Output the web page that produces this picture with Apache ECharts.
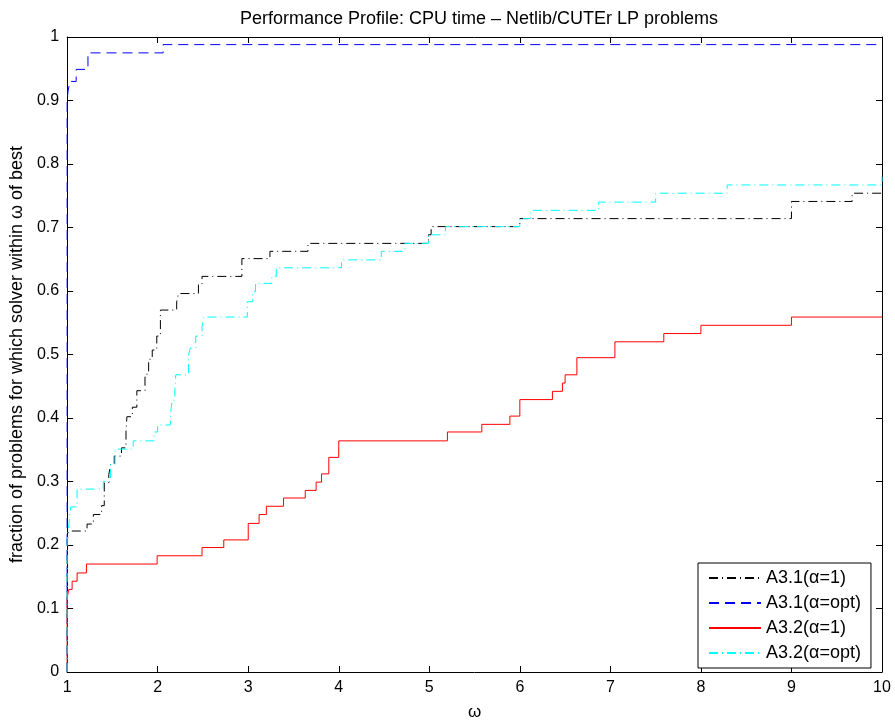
<!DOCTYPE html>
<html>
<head>
<meta charset="utf-8">
<script src="https://cdn.jsdelivr.net/npm/echarts@6/dist/echarts.min.js"></script>
<style>
  html, body { margin: 0; padding: 0; background: #fff; }
  #chart { width: 895px; height: 726px; }
</style>
</head>
<body>
<div id="chart"></div>
<script>
// step points: value y holds from x until the next x
const a31OneX = [1, 1, 1.02, 1.22, 1.29, 1.38, 1.41, 1.46, 1.48, 1.52, 1.60, 1.65, 1.66, 1.72, 1.77, 1.86, 1.90, 1.94, 1.99, 2.03, 2.21, 2.23, 2.45, 2.49, 2.93, 3.24, 3.66, 4.99, 5.02, 6.0, 9.0, 9.67, 10]
const a31OneY = [0, 0.208, 0.222, 0.233, 0.248, 0.262, 0.298, 0.311, 0.327, 0.34, 0.353, 0.378, 0.402, 0.417, 0.443, 0.469, 0.4925, 0.507, 0.529, 0.57, 0.583, 0.596, 0.61, 0.623, 0.651, 0.6625, 0.675, 0.6885, 0.7014, 0.714, 0.741, 0.754, 0.754]

const a31OptX = [1, 1, 1.01, 1.03, 1.10, 1.23, 2.06, 10]
const a31OptY = [0, 0.9, 0.915, 0.93, 0.949, 0.975, 0.988, 0.988]

const a32OneX = [1, 1, 1.018, 1.055, 1.11, 1.213, 1.994, 2.49, 2.73, 3.0, 3.12, 3.20, 3.39, 3.63, 3.75, 3.81, 3.89, 4.0, 5.2, 5.58, 5.89, 6.0, 6.36, 6.47, 6.5, 6.63, 7.05, 7.59, 8.0, 9.0, 10]
const a32OneY = [0, 0.117, 0.13, 0.143, 0.156, 0.17, 0.183, 0.196, 0.208, 0.234, 0.248, 0.261, 0.274, 0.286, 0.299, 0.312, 0.338, 0.364, 0.378, 0.39, 0.403, 0.429, 0.442, 0.455, 0.468, 0.495, 0.52, 0.533, 0.546, 0.559, 0.559]

const a32OptX = [1, 1, 1.02, 1.04, 1.11, 1.40, 1.48, 1.53, 1.73, 1.96, 2.0, 2.14, 2.16, 2.19, 2.20, 2.34, 2.36, 2.42, 2.49, 2.51, 2.99, 3.05, 3.08, 3.26, 3.31, 4.03, 4.47, 4.73, 4.99, 5.18, 6.0, 6.12, 6.87, 7.5, 8.29, 10, 10]
const a32OptY = [0, 0.208, 0.234, 0.26, 0.288, 0.30, 0.327, 0.351, 0.364, 0.378, 0.389, 0.404, 0.428, 0.443, 0.468, 0.498, 0.51, 0.529, 0.544, 0.559, 0.583, 0.599, 0.612, 0.623, 0.6365, 0.649, 0.6625, 0.675, 0.6885, 0.7014, 0.714, 0.727, 0.740, 0.754, 0.767, 0.767, 0.78]

const seriesNames = ['A3.1(\u03b1=1)', 'A3.1(\u03b1=opt)', 'A3.2(\u03b1=1)', 'A3.2(\u03b1=opt)']

function zip(xs, ys) {
  return xs.map((x, i) => [x, ys[i]])
}

const font = 'Liberation Sans, Arial, Helvetica, sans-serif'
const chart = echarts.init(document.getElementById('chart'))

const axisCommon = {
  type: 'value',
  axisLine: { show: true, onZero: false, lineStyle: { color: '#000', width: 1 } },
  axisTick: { show: true, inside: true, length: 6, lineStyle: { color: '#000' } },
  splitLine: { show: false }
}

function stepLine(name, data, color, type) {
  return {
    name: name,
    type: 'line',
    step: 'end',
    data: data,
    showSymbol: false,
    symbol: 'none',
    animation: false,
    lineStyle: { color: color, width: 1, type: type },
    itemStyle: { color: color }
  }
}

chart.setOption({
  backgroundColor: '#fff',
  title: {
    text: 'Performance Profile: CPU time \u2013 Netlib/CUTEr LP problems',
    left: 474,
    textAlign: 'center',
    top: 5,
    textStyle: { fontFamily: font, fontSize: 18, fontWeight: 'normal', color: '#000' }
  },
  grid: { left: 66, right: 13, top: 37, bottom: 46 },
  legend: {
    orient: 'vertical',
    left: 698,
    top: 563,
    itemWidth: 52,
    itemHeight: 14,
    itemGap: 7,
    padding: [6, 10, 6, 10],
    backgroundColor: '#fff',
    borderColor: '#000',
    borderWidth: 1,
    borderRadius: 0,
    itemStyle: { color: 'rgba(0,0,0,0)', borderWidth: 0, opacity: 0 },
    textStyle: { fontFamily: font, fontSize: 18, color: '#000' },
    data: seriesNames
  },
  xAxis: [
    Object.assign({}, axisCommon, {
      min: 1, max: 10, interval: 1,
      name: '\u03c9',
      nameLocation: 'middle',
      nameGap: 32,
      nameTextStyle: { fontFamily: font, fontSize: 17, color: '#000' },
      axisLabel: { fontFamily: font, fontSize: 16, color: '#000', margin: 8 }
    }),
    Object.assign({}, axisCommon, {
      min: 1, max: 10, interval: 1, position: 'top',
      axisLabel: { show: false }
    })
  ],
  yAxis: [
    Object.assign({}, axisCommon, {
      min: 0, max: 1, interval: 0.1,
      name: 'fraction of problems for which solver within \u03c9 of best',
      nameLocation: 'middle',
      nameGap: 38,
      nameRotate: 90,
      nameTextStyle: { fontFamily: font, fontSize: 18, color: '#000' },
      axisLabel: { fontFamily: font, fontSize: 16, color: '#000', margin: 8 }
    }),
    Object.assign({}, axisCommon, {
      min: 0, max: 1, interval: 0.1, position: 'right',
      axisLabel: { show: false }
    })
  ],
  series: [
    stepLine(seriesNames[0], zip(a31OneX, a31OneY), '#000000', [9, 4, 1, 4]),
    stepLine(seriesNames[1], zip(a31OptX, a31OptY), '#0000ff', [10, 6]),
    stepLine(seriesNames[2], zip(a32OneX, a32OneY), '#ff0000', 'solid'),
    stepLine(seriesNames[3], zip(a32OptX, a32OptY), '#00ffff', [9, 4, 1, 4])
  ]
})
</script>
</body>
</html>
